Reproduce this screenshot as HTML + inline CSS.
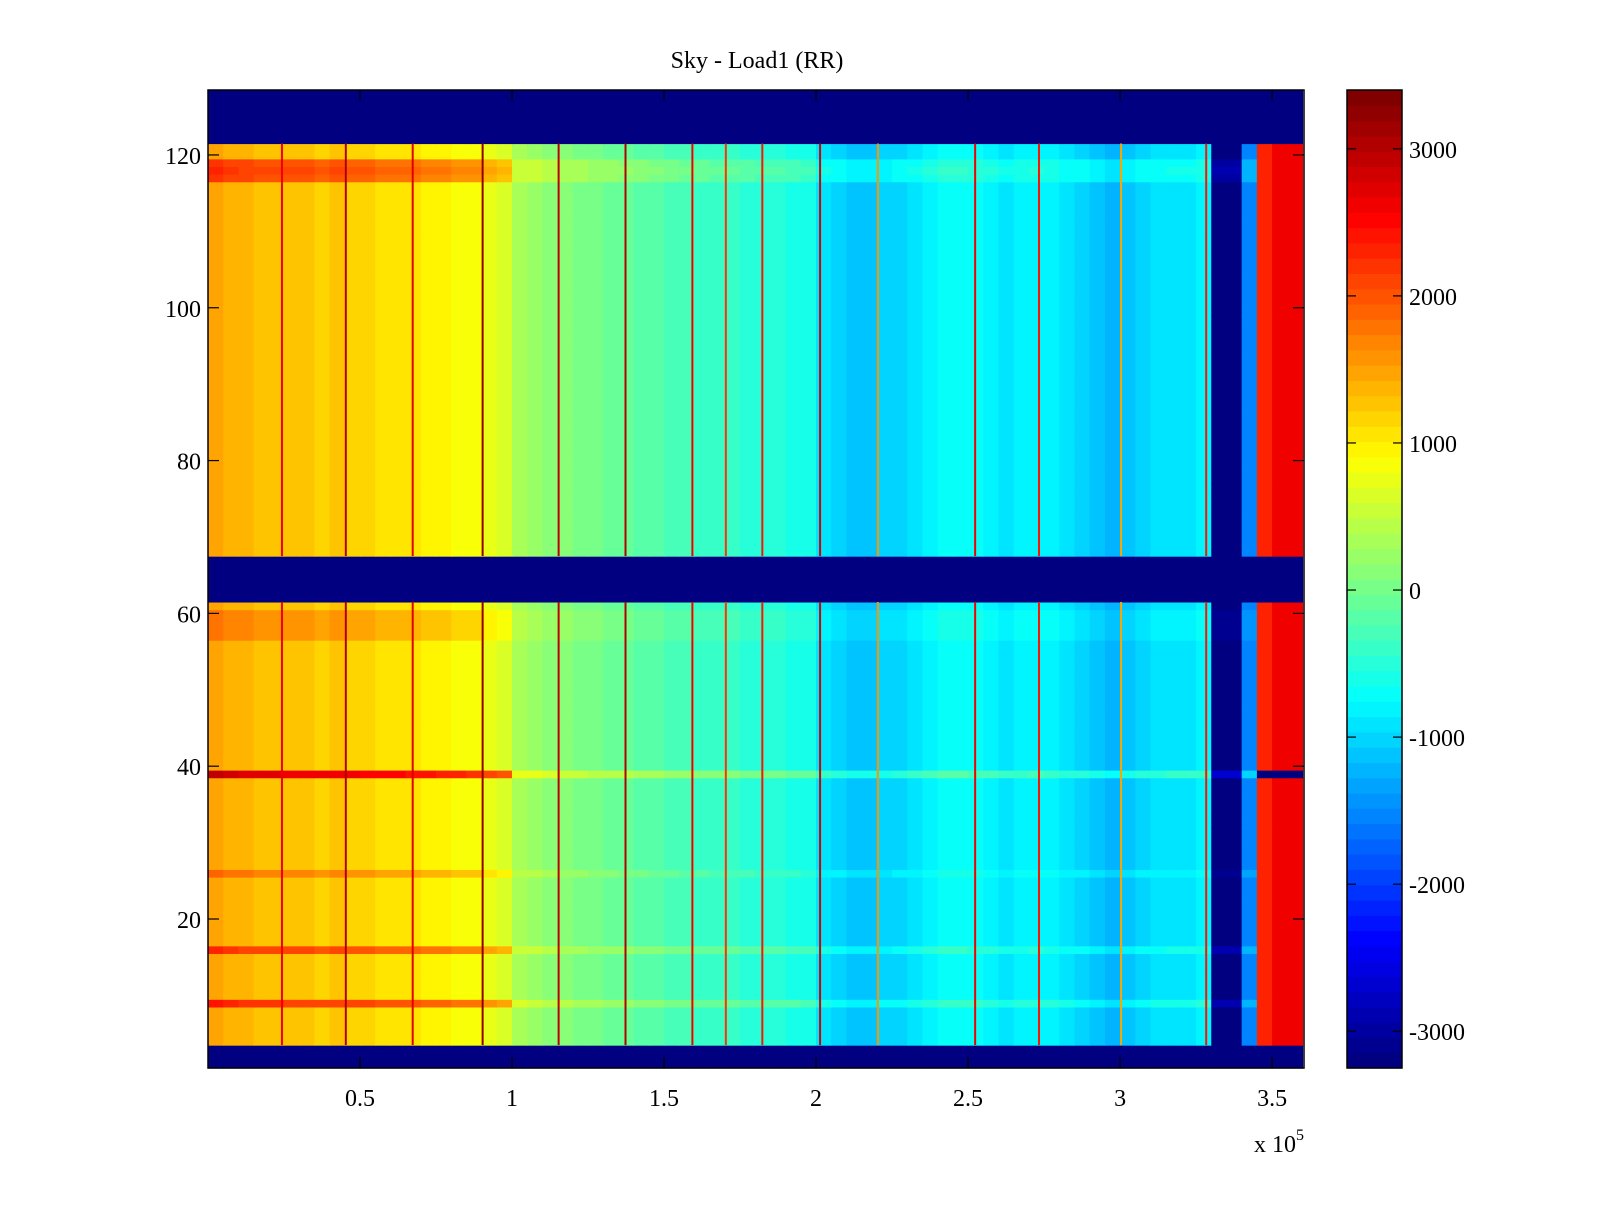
<!DOCTYPE html>
<html><head><meta charset="utf-8"><style>
body{margin:0;background:#fff;width:1600px;height:1200px;overflow:hidden;font-family:"Liberation Serif",serif}
svg text{font-family:"Liberation Serif",serif;fill:#000}
</style></head><body>
<svg id="fig" width="1600" height="1200" xmlns="http://www.w3.org/2000/svg">
<rect width="1600" height="1200" fill="#fff"/>
<text x="757" y="68" font-size="24" text-anchor="middle">Sky - Load1 (RR)</text>
<g id="heat"></g>
<g id="cbar"></g>
<g id="axes"></g>
<text x="1254" y="1152" font-size="24">x 10<tspan dy="-12" font-size="16">5</tspan></text>
</svg>
<script>
// data: column profile in bins of 5000 (x from 0 to 3.6e5)
const colProfile=[1500,1400,1350,1300,1300,1250,1250,1200,1250,1200,1150,1100,1100,1050,1000,950,900,850,700,600,
 300,250,150,100,50,0,-50,-100,-150,-200,-250,-300,-350,-400,-400,-450,-500,-500,-550,-600,
 -900,-1000,-1100,-1100,-1050,-1000,-900,-800,-700,-700,-750,-800,-900,-850,-800,-850,-950,-1000,-1100,-1200,-1100,-1000,-950,-900,-900,-850,
 -3200,-3200,-1500,2300,2600,2600];
// row offsets (rows 1..128), hot rows on the left side
const rowOffset=new Array(128).fill(0);
const hotRows=[9,16,26,39,57,58,59,60,117,118,119];
const hotVals=[900,800,400,1400,300,300,300,300,700,800,700];
// empty (no data) rows
const blankRows=[1,2,3,62,63,64,65,66,67,122,123,124,125,126,127,128];
// vertical streaks
const streakX=[24000,45000,67000,90000,115000,137000,159000,170000,182000,201000,220000,252000,273000,300000,328000];
const streakVal=[2600,3000,2700,3200,2900,3000,2600,2200,2400,2800,1600,2600,2400,1500,2400];
const xTicks=[0.5,1,1.5,2,2.5,3,3.5];
const yTicks=[20,40,60,80,100,120];
const cTicks=[3000,2000,1000,0,-1000,-2000,-3000];
const cmin=-3250,cmax=3400;

const L=208,R=1304,T=90,B=1068;
const xs=v=>L+(v-0)/360500*(R-L);
const ys=v=>T+(128.5-v)/128*(B-T);
function jet(t){t=Math.max(0,Math.min(1,t));t=Math.floor(t*63.999)/63;
 const r=Math.max(0,Math.min(1,1.5-Math.abs(4*t-3))),g=Math.max(0,Math.min(1,1.5-Math.abs(4*t-2))),b=Math.max(0,Math.min(1,1.5-Math.abs(4*t-1)));
 return `rgb(${Math.round(r*255)},${Math.round(g*255)},${Math.round(b*255)})`;}
const col=v=>jet((v-cmin)/(cmax-cmin));
hotRows.forEach((r,i)=>rowOffset[r-1]=hotVals[i]);
const NS="http://www.w3.org/2000/svg";
function mk(tag,attrs,parent){const e=document.createElementNS(NS,tag);for(const k in attrs)e.setAttribute(k,attrs[k]);parent.appendChild(e);return e;}
const heat=document.getElementById('heat');
const bw=5000;
for(let r=1;r<=128;r++){
 const y0=ys(r+0.5),y1=ys(r-0.5);
 for(let c=0;c<colProfile.length;c++){
  let v;
  if(blankRows.includes(r))v=cmin;
  else{const x=c*bw;v=colProfile[c]+rowOffset[r-1]*(x<100000?1:(x>=345000?0:0.35));
   if(r===39&&x>=345000)v=cmin;}
  const x0=xs(c*bw),x1=xs(Math.min((c+1)*bw,360500));
  const el=mk('rect',{x:x0,y:y0,width:x1-x0+0.6,height:y1-y0+0.6,fill:col(v)},heat);
  
  
 }
}
// streaks over data row blocks
const blocks=[[4,61],[68,121]];
streakX.forEach((sx,i)=>{blocks.forEach(b=>{
 const el=mk('rect',{x:xs(sx),y:ys(b[1]+0.5),width:2,height:ys(b[0]-0.5)-ys(b[1]+0.5),fill:col(streakVal[i])},heat);
 
 
});});
const ax=document.getElementById('axes');
mk('rect',{x:L,y:T,width:R-L,height:B-T,fill:'none',stroke:'#000','stroke-width':1.5},ax);
xTicks.forEach(t=>{const x=xs(t*1e5);
 mk('line',{x1:x,x2:x,y1:B,y2:B-11,stroke:'#000','stroke-width':1.2},ax);
 mk('line',{x1:x,x2:x,y1:T,y2:T+11,stroke:'#000','stroke-width':1.2},ax);
 const tx=mk('text',{x:x,y:1106,'font-size':24,'text-anchor':'middle'},ax);tx.textContent=t;
 
 });
yTicks.forEach(t=>{const y=ys(t);
 mk('line',{x1:L,x2:L+11,y1:y,y2:y,stroke:'#000','stroke-width':1.2},ax);
 mk('line',{x1:R,x2:R-11,y1:y,y2:y,stroke:'#000','stroke-width':1.2},ax);
 const tx=mk('text',{x:201,y:y+9,'font-size':24,'text-anchor':'end'},ax);tx.textContent=t;
 
 });
// colorbar
const cb=document.getElementById('cbar');const CL=1347,CR=1402;
const cy=v=>T+(cmax-v)/(cmax-cmin)*(B-T);
for(let i=0;i<64;i++){const v0=cmin+i*(cmax-cmin)/64,v1=cmin+(i+1)*(cmax-cmin)/64;
 const el=mk('rect',{x:CL,y:cy(v1),width:CR-CL,height:cy(v0)-cy(v1)+0.6,fill:jet((i+0.5)/64)},cb);
 
 }
mk('rect',{x:CL,y:T,width:CR-CL,height:B-T,fill:'none',stroke:'#000','stroke-width':1.5},cb);
cTicks.forEach(t=>{const y=cy(t);
 mk('line',{x1:CL,x2:CL+9,y1:y,y2:y,stroke:'#000','stroke-width':1.2},cb);
 mk('line',{x1:CR,x2:CR-9,y1:y,y2:y,stroke:'#000','stroke-width':1.2},cb);
 const tx=mk('text',{x:1409,y:y+9,'font-size':24},cb);tx.textContent=t;
 
 });
</script>
</body></html>
